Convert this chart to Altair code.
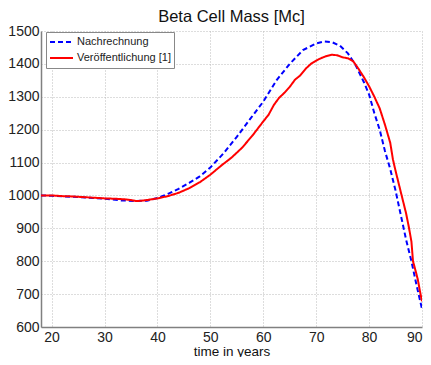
import altair as alt
import pandas as pd

series_names = ["Nachrechnung", "Veröffentlichung [1]"]

blue_years = [18, 20, 25, 30, 33, 36, 38, 40, 42, 44, 46, 48, 50, 52.5, 55, 57.5, 60, 62.5, 65,
              67.5, 70, 71.5, 73, 74.5, 76, 77.5, 79, 80, 81, 82, 83, 84, 85, 86, 87, 88, 89, 90]
blue_vals = [1000, 999, 995, 990, 985, 983, 984, 992, 1005, 1020, 1038, 1058, 1085, 1128, 1178,
             1232, 1285, 1350, 1400, 1442, 1462, 1468, 1466, 1455, 1432, 1395, 1345, 1307, 1250,
             1200, 1135, 1080, 1015, 940, 865, 800, 725, 655]

red_years = [18, 20, 22, 24, 26, 28, 30, 32, 34, 35, 36, 37, 38, 40, 42, 44, 46, 48, 50, 52, 54,
             55, 56, 58, 60, 61, 62, 63, 64, 65, 66, 67, 68, 69, 70, 71, 72, 73, 74, 75, 76, 77,
             78, 79, 80, 81, 82, 83, 84, 84.5, 85, 86, 87, 87.5, 88, 88.3, 88.8, 89.2, 89.6, 90]
red_vals = [1000, 1000, 998, 997, 995, 993, 991, 990, 988, 986, 983, 984, 986, 991, 998, 1008,
            1022, 1040, 1063, 1090, 1115, 1130, 1145, 1183, 1225, 1245, 1275, 1297, 1312, 1330,
            1352, 1365, 1385, 1400, 1410, 1418, 1424, 1428, 1426, 1420, 1417, 1408, 1385, 1360,
            1332, 1300, 1265, 1215, 1160, 1110, 1075, 1010, 945, 905, 860, 800, 770, 745, 710, 678]

x_ticks = [20, 30, 40, 50, 60, 70, 80, 90]
y_ticks = [600, 700, 800, 900, 1000, 1100, 1200, 1300, 1400, 1500]

rows = []
for i, (x, y) in enumerate(zip(blue_years, blue_vals)):
    rows.append({"series": series_names[0], "t": x, "v": y, "o": i})
for i, (x, y) in enumerate(zip(red_years, red_vals)):
    rows.append({"series": series_names[1], "t": x, "v": y, "o": i})
df = pd.DataFrame(rows)

chart = alt.Chart(df).mark_line(strokeWidth=2, clip=True).encode(
    x=alt.X("t:Q", scale=alt.Scale(domain=[18, 90], nice=False, zero=False),
            axis=alt.Axis(values=x_ticks, format="d", title="time in years", labelFlush=True)),
    y=alt.Y("v:Q", scale=alt.Scale(domain=[600, 1500], nice=False, zero=False),
            axis=alt.Axis(values=y_ticks, format="d", title=None, labelFlush=False)),
    color=alt.Color("series:N", scale=alt.Scale(domain=series_names, range=["#0000ff", "#ff0000"]),
                    legend=alt.Legend(title=None, orient="none", legendX=5, legendY=1,
                                      fillColor="white", strokeColor="#888888", padding=3,
                                      labelFontSize=11, labelColor="#222222", labelFont="Liberation Sans",
                                      symbolType="stroke", symbolSize=529, symbolStrokeWidth=2,
                                      labelOffset=3, rowPadding=2, clipHeight=14, labelLimit=300)),
    strokeDash=alt.StrokeDash("series:N", scale=alt.Scale(domain=series_names, range=[[5, 3], [1, 0]]),
                              legend=alt.Legend(title=None)),
    order="o:Q",
).properties(
    width=381, height=296,
    title=alt.TitleParams("Beta Cell Mass [Mc]", fontSize=16.5, font="Liberation Sans",
                          fontWeight="normal", color="#111111", anchor="middle", offset=-1),
    autosize=alt.AutoSizeParams(type="none"),
    padding={"left": 33, "top": 23, "right": 1, "bottom": 30},
).configure_axis(
    labelFont="Liberation Sans", labelFontSize=14, labelColor="#222222",
    titleFont="Liberation Sans", titleFontSize=13.5, titleColor="#111111", titleFontWeight="normal",
    domainColor="#808080", domainWidth=1.5, ticks=False, tickSize=0,
    grid=True, gridColor="#bbbbbb", gridDash=[1, 2], gridWidth=1,
).configure_axisY(labelPadding=2).configure_axisX(labelPadding=3, titlePadding=0).configure_view(
    stroke=None
)

chart.save("out.html", embed_options={"renderer": "svg", "actions": False})
